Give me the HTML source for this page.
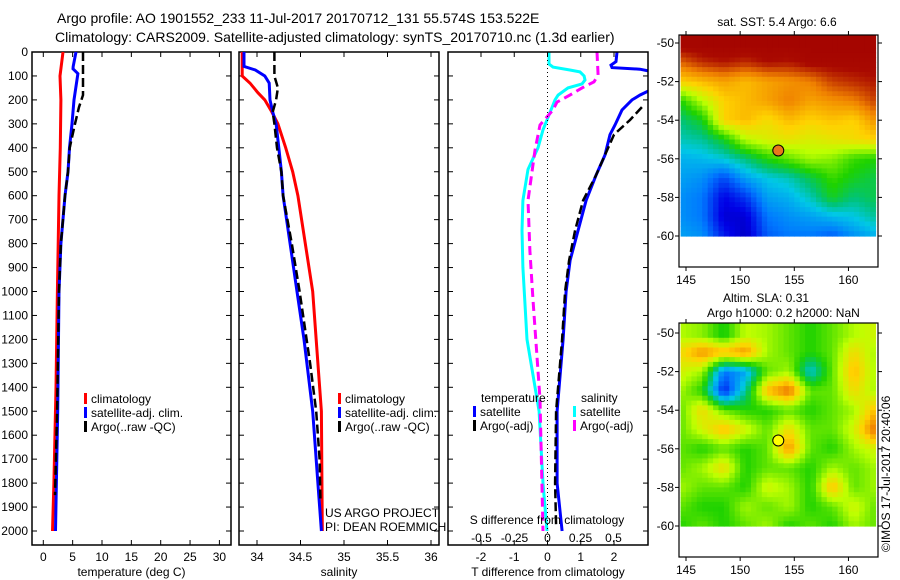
<!DOCTYPE html>
<html><head><meta charset="utf-8"><style>
html,body{margin:0;padding:0;background:#fff;}
svg{display:block;font-family:"Liberation Sans",sans-serif;}
text{font-size:12px;fill:#000;}
.ttl{font-size:14px;}
</style></head><body>
<svg id="fig" width="900" height="580" viewBox="0 0 900 580" xmlns="http://www.w3.org/2000/svg">
<defs><clipPath id="cp3"><rect x="448" y="52" width="200" height="493"/></clipPath></defs>
<text class="ttl" x="57" y="23">Argo profile: AO 1901552_233 11-Jul-2017 20170712_131 55.574S 153.522E</text>
<text class="ttl" x="55" y="42">Climatology: CARS2009. Satellite-adjusted climatology: synTS_20170710.nc (1.3d earlier)</text>
<g id="p1"></g>
<g id="p2"></g>
<g id="p3"></g>
<g id="m1"></g>
<g id="m2"></g>
<text x="325" y="517">US ARGO PROJECT</text>
<text x="325" y="531">PI: DEAN ROEMMICH</text>
<text x="777" y="26" text-anchor="middle">sat. SST: 5.4 Argo: 6.6</text>
<text x="723" y="302">Altim. SLA: 0.31</text>
<text x="707" y="317">Argo h1000: 0.2 h2000: NaN</text>
<text transform="translate(890,552) rotate(-90)">©IMOS 17-Jul-2017 20:40:06</text>
</svg>
<script>
// ---- profile data ----
const depthTicks=[0,100,200,300,400,500,600,700,800,900,1000,1100,1200,1300,1400,1500,1600,1700,1800,1900,2000];
const tTicks=[0,5,10,15,20,25,30];
const sTicks=[34,34.5,35,35.5,36];
const dtTicks=[-2,-1,0,1,2];
const dsTicks=[-0.5,-0.25,0,0.25,0.5];
const dsTickLabels=["-0.5","-0.25","0","0.25","0.5"];

const tClimDepth=[0,50,100,200,400,600,1000,1400,1800,2000];
const tClimVal=[3.36,3.1,2.85,3.0,2.9,2.67,2.4,2.16,1.8,1.57];
const tSatDepth=[0,60,70,90,200,300,400,500,600,800,1000,1500,2000];
const tSatVal=[5.57,5.1,5.06,5.9,5.23,4.89,4.46,4.2,3.7,3.0,2.67,2.45,2.08];
const tArgoDepth=[0,180,230,300,400,500,600,800,1000,1500,1850];
const tArgoVal=[6.76,6.76,6.08,5.4,4.5,4.2,3.7,3.0,2.67,2.35,2.0];

const sClimDepth=[0,100,130,170,200,250,300,400,500,600,1000,1300,1500,2000];
const sClimVal=[33.83,33.83,33.92,34.01,34.09,34.17,34.24,34.33,34.41,34.47,34.64,34.70,34.74,34.75];
const sSatDepth=[0,60,75,100,130,200,250,300,400,500,600,800,1000,1200,1500,1800,2000];
const sSatVal=[33.85,33.85,33.98,34.09,34.14,34.15,34.18,34.22,34.25,34.28,34.30,34.38,34.46,34.54,34.64,34.70,34.74];
const sArgoDepth=[0,100,150,200,250,300,400,500,600,800,1000,1300,1500,1700,1880];
const sArgoVal=[34.20,34.20,34.24,34.22,34.18,34.20,34.23,34.28,34.30,34.40,34.49,34.61,34.68,34.72,34.73];

const dtSatDepth=[0,40,55,65,72,80,160,180,200,242,305,345,430,515,620,745,870,1000,1200,1500,1800,2000];
const dtSatVal=[2.09,2.06,1.91,1.94,2.78,3.08,3.08,2.78,2.54,2.24,2.03,1.88,1.73,1.46,1.16,0.92,0.68,0.56,0.47,0.29,0.29,0.44];
const dtArgoDepth=[230,284,345,430,515,620,745,870,1000,1200,1500,1800,1980];
const dtArgoVal=[2.84,2.48,2.0,1.73,1.46,1.07,0.83,0.65,0.53,0.44,0.26,0.23,0.26];
const dsSatDepth=[0,50,63,75,83,100,117,133,150,180,200,263,325,400,490,620,745,900,1200,1500,1800,2000];
const dsSatVal=[0.011,0.011,0.042,0.17,0.246,0.277,0.284,0.261,0.155,0.08,0.057,0.011,-0.034,-0.072,-0.148,-0.186,-0.193,-0.186,-0.155,-0.064,-0.034,-0.004];
const dsArgoDepth=[0,96,125,150,180,209,242,305,410,620,830,1035,1450,2000];
const dsArgoVal=[0.375,0.383,0.352,0.261,0.17,0.072,0.042,-0.057,-0.095,-0.148,-0.133,-0.11,-0.057,-0.034];

// ---- map data (rows lat -50..-60, cols lon 144.5..162.5 step 2) ----
const mapLons=[144.5,146.5,148.5,150.5,152.5,154.5,156.5,158.5,160.5,162.5];
const mapLats=[-50,-51,-52,-53,-54,-55,-56,-57,-58,-59,-60];
const sstGrid=[
[0.97,0.97,0.97,0.97,0.97,0.97,0.97,0.97,0.97,0.97],
[0.85,0.9,0.92,0.9,0.93,0.92,0.95,0.95,0.95,0.95],
[0.72,0.75,0.78,0.75,0.78,0.8,0.82,0.88,0.9,0.92],
[0.5,0.62,0.72,0.75,0.78,0.82,0.78,0.8,0.82,0.88],
[0.42,0.48,0.72,0.75,0.7,0.75,0.72,0.74,0.72,0.8],
[0.38,0.4,0.48,0.62,0.66,0.68,0.66,0.68,0.7,0.72],
[0.32,0.33,0.36,0.42,0.5,0.55,0.6,0.58,0.52,0.5],
[0.3,0.28,0.2,0.3,0.35,0.38,0.45,0.52,0.48,0.45],
[0.28,0.25,0.12,0.18,0.3,0.32,0.38,0.48,0.42,0.45],
[0.28,0.25,0.1,0.1,0.25,0.28,0.3,0.33,0.35,0.4],
[0.3,0.28,0.15,0.08,0.22,0.25,0.25,0.22,0.28,0.32]];
const slaGrid=[
[0.6,0.55,0.45,0.6,0.6,0.55,0.5,0.55,0.6,0.65],
[0.7,0.8,0.75,0.8,0.6,0.55,0.5,0.55,0.7,0.6],
[0.65,0.6,0.25,0.3,0.55,0.6,0.35,0.55,0.75,0.6],
[0.6,0.5,0.15,0.4,0.75,0.85,0.55,0.55,0.7,0.6],
[0.55,0.7,0.55,0.5,0.5,0.55,0.5,0.55,0.6,0.75],
[0.55,0.65,0.75,0.65,0.55,0.7,0.55,0.55,0.65,0.85],
[0.55,0.5,0.55,0.5,0.55,0.8,0.55,0.5,0.6,0.65],
[0.55,0.6,0.7,0.5,0.55,0.55,0.5,0.6,0.55,0.6],
[0.6,0.55,0.55,0.5,0.65,0.6,0.5,0.75,0.55,0.6],
[0.55,0.5,0.5,0.6,0.55,0.6,0.5,0.55,0.65,0.55],
[0.5,0.55,0.5,0.55,0.6,0.5,0.55,0.5,0.6,0.55]];
const argoLon=153.52, argoLat=-55.57;
const lonTicks=[145,150,155,160];
const latTicks=[-50,-52,-54,-56,-58,-60];

const NS="http://www.w3.org/2000/svg";
function mk(tag,attrs,parent){const e=document.createElementNS(NS,tag);for(const k in attrs)e.setAttribute(k,attrs[k]);parent.appendChild(e);return e;}

const top0=52, bot0=545, dScale=0.2395;
function yD(d){return top0+d*dScale;}

function panel(g,x0,x1,xs,ticks,labels,xlabel,name){
  const f=mk('rect',{x:x0,y:top0,width:x1-x0,height:bot0-top0,fill:'none',stroke:'#000','stroke-width':1.5},g);
  
  
  ticks.forEach((t,i)=>{const x=xs(t);
    mk('line',{x1:x,x2:x,y1:top0,y2:top0+5,stroke:'#000'},g);
    mk('line',{x1:x,x2:x,y1:bot0,y2:bot0-5,stroke:'#000'},g);
    if(labels){const tx=mk('text',{x:x,y:561,'text-anchor':'middle'},g);tx.textContent=labels[i];
      
      }
  });
  depthTicks.forEach(d=>{const y=yD(d);
    mk('line',{x1:x0,x2:x0+5,y1:y,y2:y,stroke:'#000'},g);
    mk('line',{x1:x1,x2:x1-5,y1:y,y2:y,stroke:'#000'},g);});
  if(xlabel){const t=mk('text',{x:(x0+x1)/2,y:576,'text-anchor':'middle'},g);t.textContent=xlabel;
    
    }
}
function line(g,dep,val,xs,color,w,dash,name){
  const pts=dep.map((d,i)=>xs(val[i]).toFixed(1)+','+yD(d).toFixed(1)).join(' ');
  const p=mk('polyline',{points:pts,fill:'none',stroke:color,'stroke-width':w},g);
  if(dash)p.setAttribute('stroke-dasharray',dash);
  
  
}
function legend(g,x,y,color,label,name){
  mk('rect',{x:x,y:y-10,width:3,height:11,fill:color},g);
  const t=mk('text',{x:x+7,y:y},g);t.textContent=label;
  
  
}

// Panel 1
const p1=document.getElementById('p1');
const xT=t=>43.3+t*5.87;
panel(p1,32,231,xT,tTicks,tTicks.map(String),'temperature (deg C)','temperature-panel');
depthTicks.forEach(d=>{const t=mk('text',{x:28,y:yD(d)+4,'text-anchor':'end'},p1);t.textContent=d;
  
  });
line(p1,tClimDepth,tClimVal,xT,'#f00',3,null,'temp-climatology-line');
line(p1,tSatDepth,tSatVal,xT,'#00f',3,null,'temp-satellite-line');
line(p1,tArgoDepth,tArgoVal,xT,'#000',2.5,'9,4','temp-argo-line');
legend(p1,84,403,'#f00','climatology','legend-climatology');
legend(p1,84,417,'#00f','satellite-adj. clim.','legend-satellite');
legend(p1,84,431,'#000','Argo(..raw -QC)','legend-argo');

// Panel 2
const p2=document.getElementById('p2');
const xS=s=>257+(s-34)*87;
panel(p2,239,439,xS,sTicks,sTicks.map(String),'salinity','salinity-panel');
line(p2,sClimDepth,sClimVal,xS,'#f00',3,null,'sal-climatology-line');
line(p2,sSatDepth,sSatVal,xS,'#00f',3,null,'sal-satellite-line');
line(p2,sArgoDepth,sArgoVal,xS,'#000',2.5,'9,4','sal-argo-line');
legend(p2,338,403,'#f00','climatology','legend-climatology');
legend(p2,338,417,'#00f','satellite-adj. clim.','legend-satellite');
legend(p2,338,431,'#000','Argo(..raw -QC)','legend-argo');

// Panel 3
const p3=document.getElementById('p3');
const p3c=mk('g',{'clip-path':'url(#cp3)'},p3);
const xDT=t=>547.5+t*33.25;
const xDS=s=>547.5+s*132;
panel(p3,448,648,xDT,dtTicks,dtTicks.map(String),'T difference from climatology','difference-panel');
mk('line',{x1:xDT(0),x2:xDT(0),y1:top0,y2:bot0,stroke:'#000','stroke-dasharray':'1,3'},p3);
line(p3c,dsSatDepth,dsSatVal,xDS,'#0ff',3,null,'sal-diff-satellite-line');
line(p3c,dsArgoDepth,dsArgoVal,xDS,'#f0f',3,'9,5','sal-diff-argo-line');
line(p3c,dtSatDepth,dtSatVal,xDT,'#00f',3,null,'temp-diff-satellite-line');
line(p3c,dtArgoDepth,dtArgoVal,xDT,'#000',2.5,'9,4','temp-diff-argo-line');
dsTicks.forEach((s,i)=>{const t=mk('text',{x:xDS(s),y:542,'text-anchor':'middle'},p3);t.textContent=dsTickLabels[i];
  
  });
{const t=mk('text',{x:547,y:524,'text-anchor':'middle'},p3);t.textContent='S difference from climatology';
 
 }
{const t=mk('text',{x:481,y:402},p3);t.textContent='temperature';
 
 }
{const t=mk('text',{x:581,y:402},p3);t.textContent='salinity';
 
 }
legend(p3,473,416,'#00f','satellite','legend-temp-satellite');
legend(p3,473,430,'#000','Argo(-adj)','legend-temp-argo');
legend(p3,573,416,'#0ff','satellite','legend-sal-satellite');
legend(p3,573,430,'#f0f','Argo(-adj)','legend-sal-argo');

// Maps
const cmapStops=[0,0.12,0.25,0.35,0.42,0.5,0.62,0.72,0.82,0.93,1.0];
const cmapCols=[[0,0,130],[0,0,230],[0,120,255],[0,200,230],[0,195,120],[30,210,0],[190,255,0],[255,210,0],[240,130,0],[170,10,0],[160,0,0]];
function cmap(v){v=Math.max(0,Math.min(1,v));
  let i=0;while(i<cmapStops.length-2&&v>cmapStops[i+1])i++;
  const f=(v-cmapStops[i])/(cmapStops[i+1]-cmapStops[i]);
  const a=cmapCols[i],b=cmapCols[i+1];
  return 'rgb('+a.map((x,k)=>Math.round(x+(b[k]-x)*f)).join(',')+')';}
function drawMap(g,grid,y50,frameTop,frameBot,dotColor,name){
  const lx=lon=>686+(lon-145)*10.83;
  const ly=lat=>y50+(-50-lat)*19.3;
  const sub=4;
  for(let r=0;r<mapLats.length-1;r++)for(let c=0;c<mapLons.length-1;c++){
    for(let a=0;a<sub;a++)for(let b=0;b<sub;b++){
      const fr=(a+0.5)/sub, fc=(b+0.5)/sub;
      const v=grid[r][c]*(1-fr)*(1-fc)+grid[r+1][c]*fr*(1-fc)+grid[r][c+1]*(1-fr)*fc+grid[r+1][c+1]*fr*fc;
      const lon0=mapLons[c]+(mapLons[c+1]-mapLons[c])*b/sub, lon1=mapLons[c]+(mapLons[c+1]-mapLons[c])*(b+1)/sub;
      const lat0=mapLats[r]+(mapLats[r+1]-mapLats[r])*a/sub, lat1=mapLats[r]+(mapLats[r+1]-mapLats[r])*(a+1)/sub;
      const x0=Math.max(679,lx(lon0)), x1=Math.min(878,lx(lon1));
      const y0=Math.max(frameTop,ly(lat0)-(r===0&&a===0?10:0)), y1=ly(lat1);
      const cell=mk('rect',{x:x0.toFixed(1),y:y0.toFixed(1),width:(x1-x0+0.6).toFixed(1),height:(y1-y0+0.6).toFixed(1),fill:cmap(v)},g);
      
      
    }}
  const f=mk('rect',{x:679,y:frameTop,width:199,height:frameBot-frameTop,fill:'none',stroke:'#000','stroke-width':1.2},g);
  
  
  lonTicks.forEach(l=>{const x=lx(l);
    mk('line',{x1:x,x2:x,y1:frameTop,y2:frameTop-4,stroke:'#000'},g);
    mk('line',{x1:x,x2:x,y1:frameBot,y2:frameBot+4,stroke:'#000'},g);
    const t=mk('text',{x:x,y:frameBot+17,'text-anchor':'middle'},g);t.textContent=l;
    
    });
  latTicks.forEach(l=>{const y=ly(l);
    mk('line',{x1:679,x2:675,y1:y,y2:y,stroke:'#000'},g);
    mk('line',{x1:878,x2:882,y1:y,y2:y,stroke:'#000'},g);
    const t=mk('text',{x:674,y:y+4,'text-anchor':'end'},g);t.textContent=l;
    
    });
  const d=mk('circle',{cx:lx(argoLon),cy:ly(argoLat),r:5.5,fill:dotColor,stroke:'#000','stroke-width':1},g);
  
  
}
drawMap(document.getElementById('m1'),sstGrid,43,35,267,'#e8781c','sst-map');
drawMap(document.getElementById('m2'),slaGrid,333,323,557,'#ffff00','sla-map');
</script>
</body></html>
